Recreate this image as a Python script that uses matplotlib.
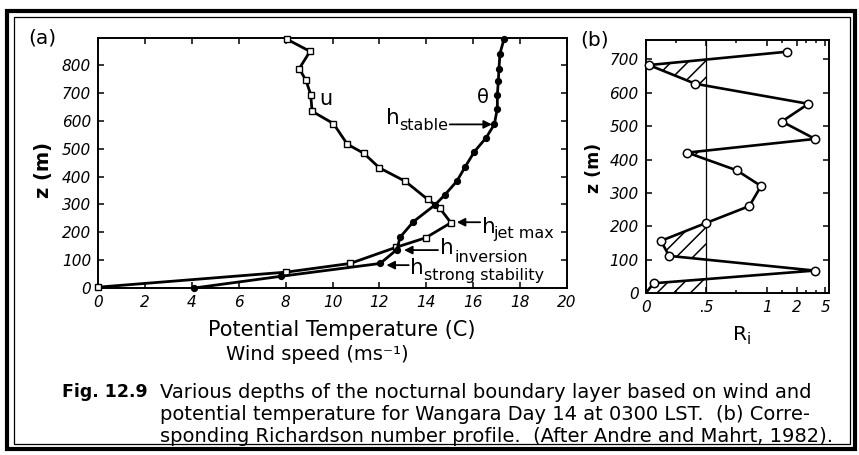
import numpy as np
import matplotlib
matplotlib.use("Agg")
import matplotlib.pyplot as plt
from matplotlib.patches import Rectangle

# ---- Wangara Day 14, 0300 LST ----
# wind speed profile (m/s) vs height (m)
z_wind = [3, 57, 88, 146, 180, 234, 286, 318, 383, 431, 483, 516, 590, 634, 694, 745, 787, 849, 892]
u_wind = [0.0, 8.03, 10.75, 12.71, 13.97, 15.05, 14.58, 14.06, 13.10, 12.00, 11.34, 10.63,
          10.04, 9.13, 9.07, 8.87, 8.58, 9.04, 8.07]
# potential temperature profile (C) vs height (m)
z_theta = [0, 42, 88, 138, 182, 238, 298, 335, 383, 435, 489, 539, 587, 644, 692, 742, 787, 841, 892]
theta = [4.1, 7.8, 12.03, 12.75, 12.88, 13.45, 14.37, 14.8, 15.3, 15.66, 16.05, 16.55,
         16.9, 17.03, 17.03, 17.07, 17.1, 17.14, 17.31]
# Richardson number profile
z_ri = [0, 30, 68, 112, 157, 210, 261, 321, 368, 421, 462, 514, 567, 627, 683, 723]
ri = [0.0, 0.065, 3.85, 0.193, 0.126, 0.496, 0.856, 0.953, 0.752, 0.344, 3.9, 1.5,
      3.2, 0.41, 0.027, 1.68]
ri_critical = 0.5

ri_ticks = [0, 0.5, 1, 2, 5]
ri_ticklabels = ["0", ".5", "1", "2", "5"]
ri_minor = [0.25, 0.75, 1.5, 3, 4]

# stretched Ri axis: linear up to 1, compressed above
RI_KNOTS = np.array([0.0, 0.5, 1.0, 2.0, 5.0, 10.0])
RI_POS = np.array([0.0, 1.0, 2.0, 2.5, 2.97, 3.5])


def ri_fwd(x):
    return np.interp(np.asarray(x, float), RI_KNOTS, RI_POS)


def ri_inv(p):
    return np.interp(np.asarray(p, float), RI_POS, RI_KNOTS)


def densify(x, z, n=60):
    """Resample a polyline so its segments stay straight on the Ri scale."""
    p = ri_fwd(x)
    z = np.asarray(z, float)
    ps, zs = [], []
    t = np.linspace(0, 1, n, endpoint=False)
    for i in range(len(p) - 1):
        ps.append(p[i] + (p[i + 1] - p[i]) * t)
        zs.append(z[i] + (z[i + 1] - z[i]) * t)
    ps.append([p[-1]])
    zs.append([z[-1]])
    return ri_inv(np.concatenate(ps)), np.concatenate(zs)


W, H = 859, 455
plt.rcParams['font.family'] = ['DejaVu Sans']
plt.rcParams['hatch.linewidth'] = 1.1
fig = plt.figure(figsize=(W / 100, H / 100), dpi=100)


def fx(px):
    return px / W


def fy(py):
    return 1 - py / H


def style_axes(ax):
    for s in ax.spines.values():
        s.set_linewidth(1.4)
    ax.tick_params(which='both', direction='in', top=True, right=True,
                   width=1.1, labelsize=11, pad=5)
    ax.tick_params(which='major', length=4)
    ax.tick_params(which='minor', length=2.5)


# ---------------- panel (a) ----------------
axa = fig.add_axes([fx(98), fy(288), fx(567) - fx(98), fy(38) - fy(288)])
axa.plot(u_wind, z_wind, color='k', lw=2.0, marker='s', ms=5, mfc='white',
         mec='k', mew=1.0, clip_on=False, zorder=3)
axa.plot(theta, z_theta, color='k', lw=2.0, marker='o', ms=4.2, mfc='k',
         mec='k', clip_on=False, zorder=3)
axa.set_xlim(0, 20)
axa.set_ylim(0, 897)
axa.set_xticks(range(0, 21, 2))
axa.set_yticks(range(0, 801, 100))
axa.set_xticklabels([str(v) for v in range(0, 21, 2)], fontstyle='italic')
axa.set_yticklabels([str(v) for v in range(0, 801, 100)], fontstyle='italic')
style_axes(axa)

axa.text(9.43, 656, 'u', fontsize=15)
axa.text(16.15, 663, 'θ', fontsize=14)

arrow = dict(arrowstyle='-|>', color='k', lw=1.3, mutation_scale=12,
             shrinkA=0, shrinkB=0)
labels = [
    # (arrow tail, arrow head, 'h' position, subscript position, subscript)
    ((15.0, 587), (16.8, 587), (12.3, 590), (12.85, 568), 'stable'),
    ((16.3, 236), (15.3, 236), (16.36, 198), (16.86, 178), 'jet max'),
    ((14.5, 136), (13.05, 136), (14.6, 122), (15.2, 95), 'inversion'),
    ((13.25, 82), (12.3, 82), (13.3, 52), (13.9, 28), 'strong stability'),
]
for tail, head, hpos, spos, sub in labels:
    axa.annotate('', xy=head, xytext=tail, arrowprops=arrow)
    axa.text(*hpos, 'h', fontsize=15.5, va='baseline')
    axa.text(*spos, sub, fontsize=11.5, va='baseline')

# ---------------- panel (b) ----------------
axb = fig.add_axes([fx(645.7), fy(293.3), fx(829.3) - fx(645.7), fy(40) - fy(293.3)])
axb.set_xscale('function', functions=(ri_fwd, ri_inv))
axb.set_xlim(0, 5.6)
axb.set_ylim(0, 758)
rd, zd = densify(ri, z_ri)
axb.fill_betweenx(zd, rd, ri_critical, where=rd <= ri_critical, interpolate=True,
                  facecolor='none', edgecolor='k', hatch='//', linewidth=0)
axb.axvline(ri_critical, color='k', lw=0.9)
axb.plot(ri, z_ri, color='k', lw=1.9, zorder=3)
axb.plot(ri[1:], z_ri[1:], ls='none', marker='o', ms=6, mfc='white', mec='k',
         mew=1.1, clip_on=False, zorder=4)
axb.set_xticks(ri_ticks)
axb.set_xticklabels(ri_ticklabels, fontstyle='italic')
axb.set_xticks(ri_minor, minor=True)
axb.set_xticklabels([], minor=True)
axb.set_yticks(range(0, 701, 100))
axb.set_yticklabels([str(v) for v in range(0, 701, 100)], fontstyle='italic')
style_axes(axb)

# ---------------- labels ----------------
fig.text(fx(28), fy(44), '(a)', fontsize=14.5, va='baseline')
fig.text(fx(580), fy(46), '(b)', fontsize=14.5, va='baseline')
fig.text(fx(43), fy(170), 'z (m)', fontsize=14, fontweight='bold',
         rotation=90, ha='center', va='center')
fig.text(fx(594), fy(168), 'z (m)', fontsize=12.5, fontweight='bold',
         rotation=90, ha='center', va='center')
fig.text(fx(342), fy(330), 'Potential Temperature (C)', fontsize=15,
         ha='center', va='center')
fig.text(fx(317), fy(355), 'Wind speed (ms⁻¹)', fontsize=14,
         ha='center', va='center')
fig.text(fx(733), fy(340), 'R', fontsize=14.5, va='baseline')
fig.text(fx(747), fy(344), 'i', fontsize=10.5, va='baseline')

caption = [
    "Various depths of the nocturnal boundary layer based on wind and",
    "potential temperature for Wangara Day 14 at 0300 LST.  (b) Corre-",
    "sponding Richardson number profile.  (After Andre and Mahrt, 1982).",
]
fig.text(fx(62), fy(392), 'Fig. 12.9', fontsize=12.5, fontweight='bold', va='center')
for i, line in enumerate(caption):
    fig.text(fx(160), fy(392 + 22.5 * i), line, fontsize=14, va='center')

# ---------------- frame ----------------
fig.add_artist(Rectangle((fx(7), fy(449)), fx(855) - fx(7), fy(11) - fy(449),
                         transform=fig.transFigure, fill=False, lw=3.0, ec='k'))
fig.add_artist(Rectangle((fx(14), fy(444)), fx(850) - fx(14), fy(17) - fy(444),
                         transform=fig.transFigure, fill=False, lw=0.9, ec='k'))

fig.savefig('out.png', dpi=100)
